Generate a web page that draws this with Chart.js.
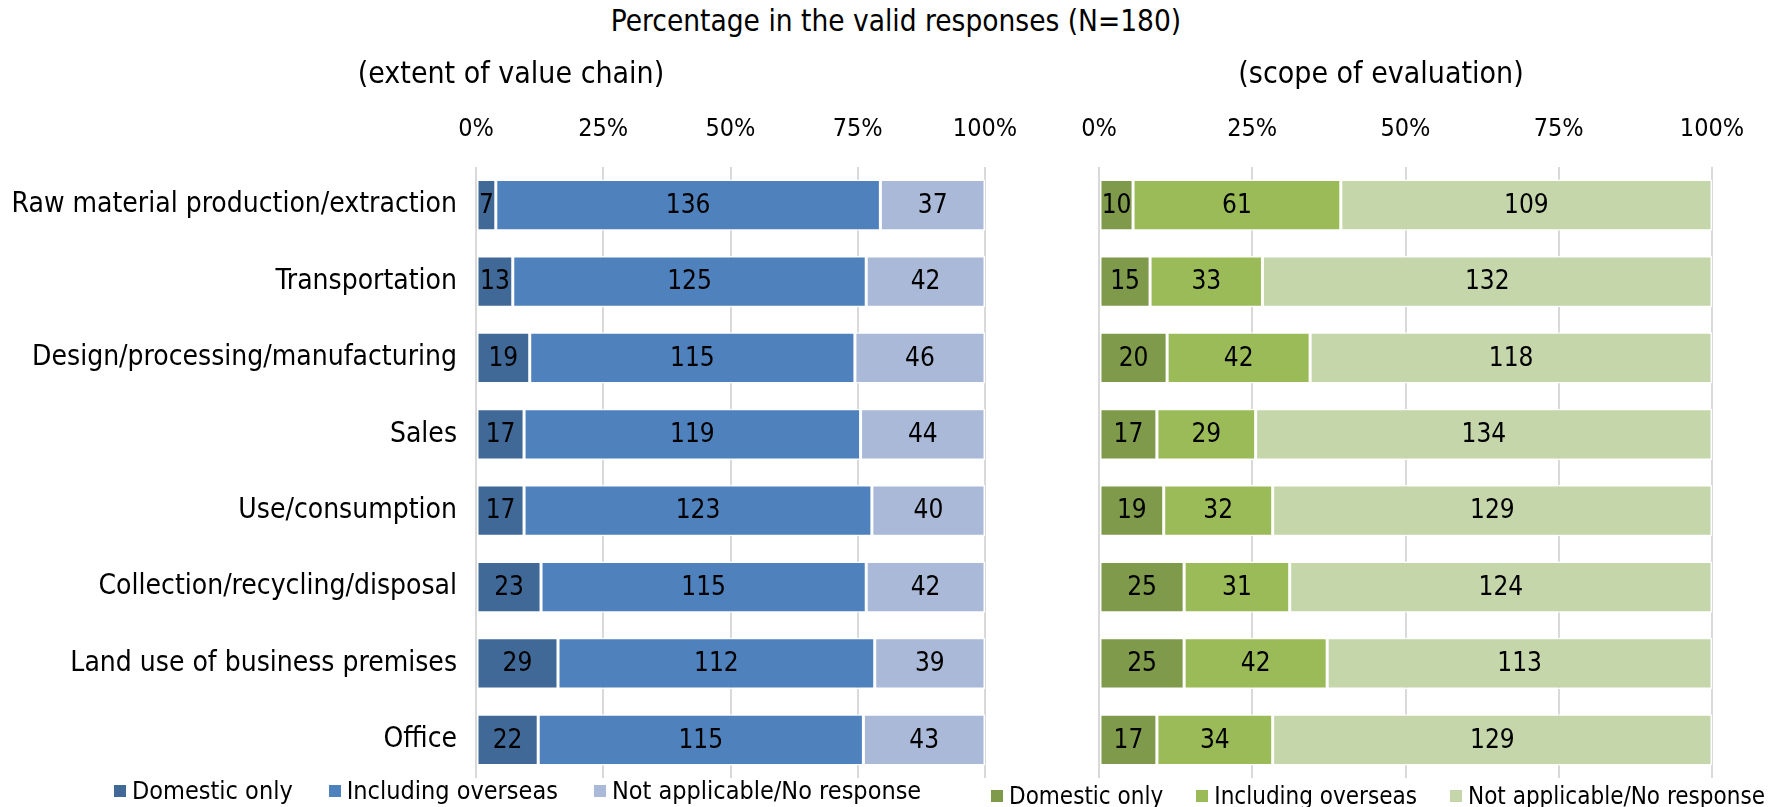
<!DOCTYPE html>
<html>
<head>
<meta charset="utf-8">
<script src="https://cdn.jsdelivr.net/npm/chart.js@4.4.0/dist/chart.umd.min.js"></script>
<style>
  body { margin: 0; background: #fff; width: 1790px; height: 807px; overflow: hidden; position: relative; }
  #mainTitle { position: absolute; left: 0; width: 1792px; top: 4px; text-align: center; font-size: 29.5px; color: #000; }
  #leftBox { position: absolute; left: 0; top: 0; width: 1017px; height: 807px; }
  #rightBox { position: absolute; left: 980px; top: 0; width: 810px; height: 807px; }
  .legend { position: absolute; white-space: nowrap; color: #000; }
  .legend span.sw { display: inline-block; width: 12px; height: 12px; margin-right: 6px; vertical-align: 2px; }
  #legendChain { left: 114px; top: 776px; font-size: 25px; }
  #legendChain span.it { margin-right: 36px; }
  #legendEval { left: 991px; top: 782px; font-size: 24px; }
  #legendEval span.it { margin-right: 33px; }
</style>
</head>
<body>
<div id="mainTitle">Percentage in the valid responses (N=180)</div>
<div id="leftBox"><canvas id="chartChain"></canvas></div>
<div id="rightBox"><canvas id="chartEval"></canvas></div>
<div class="legend" id="legendChain"></div>
<div class="legend" id="legendEval"></div>
<script>
const categories = [
    'Raw material production/extraction',
    'Transportation',
    'Design/processing/manufacturing',
    'Sales',
    'Use/consumption',
    'Collection/recycling/disposal',
    'Land use of business premises',
    'Office'
];
const seriesNames = ['Domestic only', 'Including overseas', 'Not applicable/No response'];

// extent of value chain
const chainDomestic = [7, 13, 19, 17, 17, 23, 29, 22];
const chainOverseas = [136, 125, 115, 119, 123, 115, 112, 115];
const chainNone = [37, 42, 46, 44, 40, 42, 39, 43];

// scope of evaluation
const evalDomestic = [10, 15, 20, 17, 19, 25, 25, 17];
const evalOverseas = [61, 33, 42, 29, 32, 31, 42, 34];
const evalNone = [109, 132, 118, 134, 129, 124, 113, 129];

const totalResponses = 180;
const tickValues = [0, 45, 90, 135, 180];

const blueColors = ['#416998', '#4f81bd', '#a9b9d7'];
const greenColors = ['#7e9a4a', '#9bbb59', '#c5d6ab'];

const FONT = "'DejaVu Sans Condensed', 'DejaVu Sans', sans-serif";
document.body.style.fontFamily = FONT;

// numbers inside each segment
const segmentLabels = {
    id: 'segmentLabels',
    afterDatasetsDraw(chart) {
        const ctx = chart.ctx;
        ctx.save();
        ctx.font = "26px " + FONT;
        ctx.fillStyle = '#000';
        ctx.textAlign = 'center';
        ctx.textBaseline = 'middle';
        chart.data.datasets.forEach((ds, i) => {
            chart.getDatasetMeta(i).data.forEach((bar, j) => {
                ctx.fillText(ds.data[j], (bar.x + bar.base) / 2, bar.y + 1);
            });
        });
        ctx.restore();
    }
};

function makeDatasets(values, colors) {
    return values.map((vals, i) => ({
        label: seriesNames[i],
        data: vals,
        backgroundColor: colors[i],
        borderColor: '#ffffff',
        borderWidth: 1.5,
        borderSkipped: false,
        categoryPercentage: 1,
        barPercentage: 0.67
    }));
}

function makeChart(canvasId, values, colors, subtitle, showCategories, padding, yWidth) {
    return new Chart(document.getElementById(canvasId), {
        type: 'bar',
        data: { labels: categories, datasets: makeDatasets(values, colors) },
        plugins: [segmentLabels],
        options: {
            indexAxis: 'y',
            responsive: true,
            maintainAspectRatio: false,
            animation: false,
            layout: { padding: padding },
            plugins: {
                legend: { display: false },
                tooltip: { enabled: false },
                title: {
                    display: true,
                    text: subtitle,
                    color: '#000',
                    font: { family: FONT, size: 30, weight: 'normal' },
                    padding: { top: 57, bottom: 20 }
                }
            },
            scales: {
                x: {
                    position: 'top',
                    stacked: true,
                    min: 0,
                    max: totalResponses,
                    afterBuildTicks(axis) { axis.ticks = tickValues.map(v => ({ value: v })); },
                    afterFit(axis) {
                        axis.height = 54;
                        axis.paddingRight = 32;
                    },
                    ticks: {
                        color: '#000',
                        font: { family: FONT, size: 25 },
                        padding: 23,
                        maxRotation: 0,
                        callback: v => Math.round(v / totalResponses * 100) + '%'
                    },
                    grid: { color: '#d9d9d9', lineWidth: 2, drawTicks: false },
                    border: { display: false }
                },
                y: {
                    stacked: true,
                    display: true,
                    afterFit(axis) {
                        axis.width = yWidth;
                        axis.paddingTop = 0;
                        axis.paddingBottom = 0;
                    },
                    ticks: {
                        display: showCategories,
                        color: '#000',
                        font: { family: FONT, size: 28 },
                        padding: 19
                    },
                    grid: { display: false, drawTicks: false },
                    border: { display: false }
                }
            }
        }
    });
}

makeChart('chartChain', [chainDomestic, chainOverseas, chainNone], blueColors,
    '(extent of value chain)', true, { left: 5, right: 0, top: 0, bottom: 29 }, 471);
makeChart('chartEval', [evalDomestic, evalOverseas, evalNone], greenColors,
    '(scope of evaluation)', false, { left: 70, right: 78, top: 0, bottom: 29 }, 49);

function fillLegend(id, colors) {
    document.getElementById(id).innerHTML = seriesNames.map((n, i) =>
        '<span class="it"><span class="sw" style="background:' + colors[i] + '"></span>' + n + '</span>').join('');
}
fillLegend('legendChain', blueColors);
fillLegend('legendEval', greenColors);
</script>
</body>
</html>
